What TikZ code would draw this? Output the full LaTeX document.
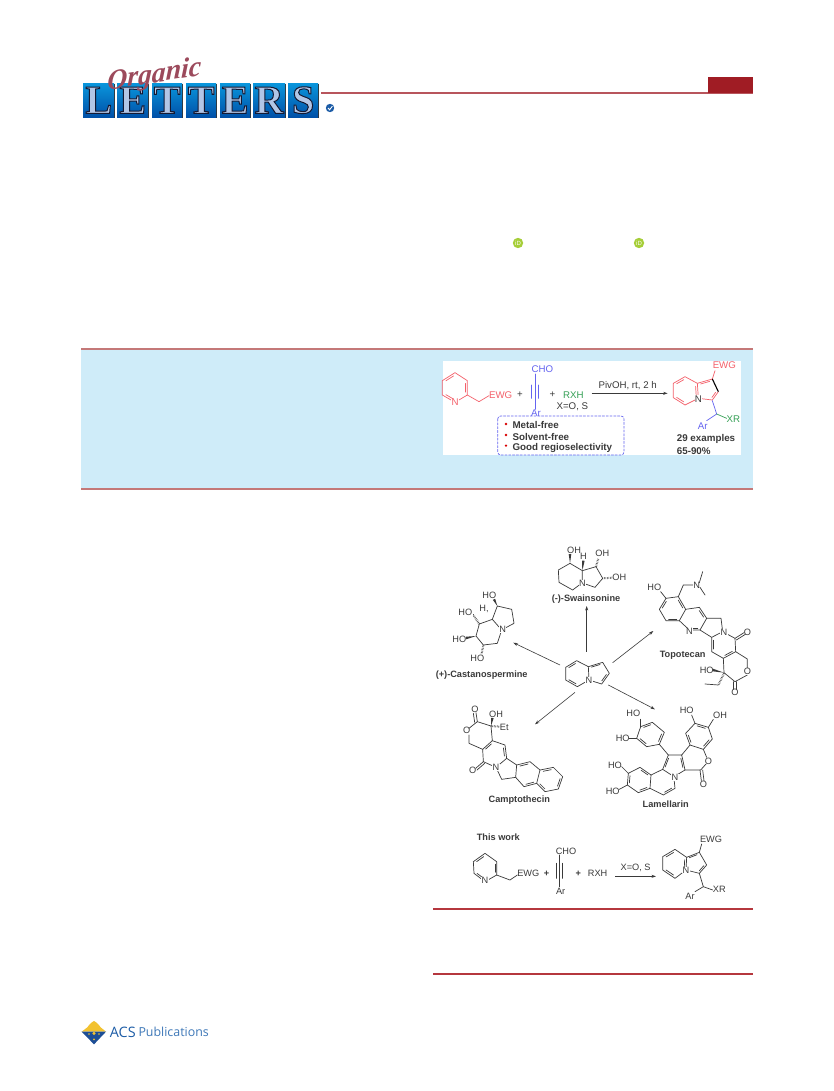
\documentclass[tikz,border=0pt]{standalone}
\usepackage{fontspec}
\setmainfont{Liberation Sans}
\newfontfamily\serifbold{Liberation Serif}
\newfontfamily\orgfont[FakeSlant=0.2]{Liberation Serif Bold Italic}
\newfontfamily\acsfont{Open Sans}
\usetikzlibrary{calc,arrows.meta}
\definecolor{hdrred}{HTML}{B8555C}
\definecolor{blockred}{HTML}{A01C24}
\definecolor{rulered}{HTML}{B5373E}
\definecolor{panel}{HTML}{CFECF9}
\definecolor{panelline}{HTML}{C47878}
\definecolor{tileTop}{HTML}{0A96DC}
\definecolor{tileBot}{HTML}{0050A8}
\definecolor{letterc}{HTML}{B2C6E6}
\definecolor{orgred}{HTML}{9C4A5C}
\definecolor{orcid}{HTML}{A6CE39}
\definecolor{chemred}{HTML}{F4606A}
\definecolor{chemblue}{HTML}{6464F0}
\definecolor{chemgreen}{HTML}{35A055}
\definecolor{chemink}{HTML}{3A3A3A}
\definecolor{acsblue}{HTML}{1C5CA6}
\definecolor{acspub}{HTML}{3E78B8}
\definecolor{acsgold}{HTML}{F2C230}
\definecolor{acsnavy}{HTML}{1D4E96}
\tikzset{
 bond/.style={line width=.7pt,line join=round,line cap=round},
 hashb/.style={line width=2pt,dash pattern=on .5pt off 1pt},
 lab/.style={font=\fontsize{9.2}{10}\selectfont,text=chemink,fill=white,inner sep=.2pt},
 nlab/.style={font=\fontsize{9.2}{10}\selectfont,text=chemink,inner sep=.2pt},
 name lab/.style={font=\fontsize{9.2}{10}\selectfont\bfseries,text=chemink,inner sep=0pt},
 toc/.style={font=\fontsize{9.7}{10}\selectfont,inner sep=0pt},
 tocb/.style={font=\fontsize{9.8}{10}\selectfont\bfseries,text=chemink,inner sep=0pt,anchor=west},
 arr/.style={line width=.6pt,draw=chemink,-{Stealth[length=4.5pt,width=3pt]}},
 tile/.style={minimum height=34pt,inner sep=0pt,top color=tileTop,bottom color=tileBot,draw=none},
 zoomed/.style={x=.33333pt,y=-.33333pt},
}
\def\ib(#1)(#2)(#3){\draw[bond] ($($(#1)!.14!(#2)$)!.16!(#3)$) -- ($($(#2)!.14!(#1)$)!.16!(#3)$);}
\def\wdg(#1)(#2){\fill ($(#1)$) -- ($(#2)!1.3pt!90:(#1)$) -- ($(#2)!1.3pt!-90:(#1)$) -- cycle;}
\newcommand{\logotile}[4]{%
 \fill[black!80] (#1+1.4,84.4) rectangle ++(#3,34);
 \node[tile,minimum width=#3 pt,anchor=north west] (#4) at (#1,83) {};
 \node[font=\serifbold\bfseries\fontsize{40}{40}\selectfont,text=letterc,inner sep=0pt] (#4txt) at (#4.center) {\special{pdf:code 2 Tr 1 w 0.08 0.1 0.2 RG}#2\special{pdf:code 0 Tr 0 0 0 RG}};
}
\begin{document}
\begin{tikzpicture}[x=1pt,y=-1pt]
\useasboundingbox (0,0) rectangle (833,1091);
\fill[white] (0,0) rectangle (833,1091);

% ---------- header ----------
\coordinate (hdrL) at (321,93);
\coordinate (hdrR) at (753,93);
\draw[hdrred,line width=1.2pt] (hdrL) -- (hdrR);
\fill[blockred] (708,77) rectangle (753,93);
\logotile{83}{L}{31}{tL}
\logotile{117}{E}{31}{tE}
\logotile{152}{T}{30}{tT}
\logotile{186}{T}{30}{tTT}
\logotile{220}{E}{30}{tEE}
\logotile{253}{R}{32}{tR}
\logotile{288}{S}{30}{tS}
\node[font=\orgfont\fontsize{28}{28}\selectfont,text=orgred,rotate=9,inner sep=0pt] (organic) at (153,76) {Organic};
\fill[acsblue] (330,108) circle (4.2);
\draw[white,line width=.9pt] (328,108) -- (329.6,109.8) -- (332.4,106.2);

% ---------- ORCID ----------
\fill[orcid] (518,243) circle (5.2);
\fill[orcid] (639,243) circle (5.2);
\node[font=\fontsize{6}{6}\selectfont,text=white,inner sep=0pt] (orc1) at (518,243) {iD};
\node[font=\fontsize{6}{6}\selectfont,text=white,inner sep=0pt] (orc2) at (639,243) {iD};

% ---------- abstract panel ----------
\fill[panel] (81,349) rectangle (753,489);
\draw[panelline,line width=1.2pt] (81,349) -- (753,349);
\draw[panelline,line width=1.2pt] (81,489) -- (753,489);
\fill[white] (443,361) rectangle (741,455);

\begin{scope}[shift={(435,350)},zoomed]
 \begin{scope}[color=chemred]
  \draw[bond] (60,68) -- (97,92) -- (97,135) -- (60,157) -- (22,135) -- (22,92) -- cycle;
  \ib(60,68)(22,92)(60,112) \ib(97,92)(97,135)(60,112) \ib(60,157)(22,135)(60,112)
  \draw[bond] (97,135) -- (132,155) -- (162,137);
  \draw[bond] (715,100) -- (750,80) -- (787,100) -- (790,145) -- (750,165) -- (715,143) -- cycle;
  \ib(715,100)(750,80)(752,122) \ib(787,100)(790,145)(752,122) \ib(750,165)(715,143)(752,122)
  \draw[bond] (787,100) -- (832,87);
  \ib(787,100)(832,87)(815,122)
  \draw[bond] (832,87) -- (840,62);
  \draw[bond] (850,125) -- (832,150) -- (790,145);
  \ib(850,125)(832,150)(812,120)
 \end{scope}
 \draw[black,line width=1.1pt] (832,87) -- (850,125);
 \begin{scope}[color=chemblue]
  \draw[bond] (300,72) -- (300,178);
  \draw[bond] (290,105) -- (290,145);
  \draw[bond] (310,105) -- (310,145);
  \draw[bond] (832,152) -- (845,192) -- (815,212);
  \draw[bond,chemgreen] (845,192) -- (875,205);
  \draw[bond,dash pattern=on 2.2pt off 1.6pt,line width=.7pt,rounded corners=3pt] (188,198) rectangle (567,315);
 \end{scope}
 \node[toc,text=chemred,inner sep=.2pt,fill=white] (nP) at (60,157) {N};
 \node[toc,text=chemred] (ewg1) at (197,134) {EWG};
 \node[toc,text=chemink] (p1) at (255,134) {+};
 \node[toc,text=chemblue] (cho1) at (322,58) {CHO};
 \node[toc,text=chemblue] (ar1) at (303,188) {Ar};
 \node[toc,text=chemink] (p2) at (352,134) {+};
 \node[toc,text=chemgreen] (rxh1) at (415,134) {RXH};
 \node[toc,text=chemink] (xo1) at (412,171) {X=O, S};
 \node[toc,text=chemink] (piv) at (578,108) {PivOH, rt, 2 h};
 \coordinate (tocA) at (470,130);
 \coordinate (tocB) at (698,130);
 \draw[arr] (tocA) -- (tocB);
 \node[toc,text=chemred] (ewg2) at (868,45) {EWG};
 \node[toc,text=chemink,inner sep=.2pt,fill=white] (n2) at (790,147) {N};
 \node[toc,text=chemblue] (ar2) at (803,228) {Ar};
 \node[toc,text=chemgreen] (xr2) at (895,208) {XR};
 \fill[red!85!black] (213,222) circle (1.3pt);
 \fill[red!85!black] (213,255) circle (1.3pt);
 \fill[red!85!black] (213,287) circle (1.3pt);
 \node[tocb] (b1) at (232,224) {Metal-free};
 \node[tocb] (b2) at (232,260) {Solvent-free};
 \node[tocb] (b3) at (232,295) {Good regioselectivity};
 \node[tocb] (ex1) at (725,267) {29 examples};
 \node[tocb] (ex2) at (725,303) {65-90\%};
\end{scope}

% ---------- upper molecules ----------
\begin{scope}[shift={(420,530)},zoomed,color=chemink]
 % Swainsonine
 \draw[bond] (450,100) -- (487,122) -- (487,158) -- (458,180) -- (417,157) -- (415,120) -- cycle;
 \draw[bond] (487,122) -- (528,110) -- (548,145) -- (525,172) -- (490,160);
 \wdg(450,100)(450,72)
 \wdg(487,122)(490,92)
 \draw[hashb] (528,110) -- (535,85);
 \draw[hashb] (548,145) -- (578,143);
 \node[lab] (sN) at (487,160) {N};
 \node[nlab] (sOH1) at (462,60) {OH};
 \node[nlab] (sH) at (490,80) {H};
 \node[nlab] (sOH2) at (547,70) {OH};
 \node[nlab] (sOH3) at (598,142) {OH};
 \node[name lab] (swain) at (498,206) {(-)-Swainsonine};
 % Castanospermine
 \draw[bond] (217,268) -- (178,282) -- (168,318) -- (190,345) -- (232,340) -- (245,300) -- cycle;
 \draw[bond] (217,268) -- (232,228) -- (275,238) -- (282,280) -- (250,297);
 \wdg(232,228)(222,208)
 \draw[hashb] (178,282) -- (162,258);
 \wdg(168,318)(138,324)
 \draw[hashb] (190,345) -- (185,372);
 \node[lab] (cN) at (248,298) {N};
 \node[nlab] (cHO1) at (208,197) {HO};
 \node[nlab] (cH) at (192,236) {H,};
 \node[nlab] (cHO2) at (140,250) {HO,};
 \node[nlab] (cHO3) at (118,328) {HO};
 \node[nlab] (cHO4) at (172,385) {HO};
 \node[name lab] (casta) at (185,434) {(+)-Castanospermine};
 % central indolizine
 \draw[bond] (437,412) -- (470,392) -- (505,410) -- (507,450) -- (472,470) -- (437,450) -- cycle;
 \draw[bond] (505,410) -- (548,397) -- (568,430) -- (545,462) -- (507,450);
 \ib(437,412)(470,392)(472,431) \ib(472,470)(437,450)(472,431) \ib(505,410)(548,397)(530,428) \ib(568,430)(545,462)(530,428)
 \node[lab] (centreN) at (507,452) {N};
 % Topotecan
 \draw[bond] (738,205) -- (775,200) -- (797,238) -- (778,272) -- (738,272) -- (718,238) -- cycle;
 \ib(738,205)(718,238)(758,238) \ib(775,200)(797,238)(758,238) \ib(778,272)(738,272)(758,238)
 \draw[bond] (797,238) -- (838,232) -- (860,265) -- (840,300) -- (808,300) -- (778,272);
 \ib(838,232)(860,265)(820,268) \ib(840,300)(808,300)(820,268)
 \draw[bond] (860,265) -- (903,265) -- (908,305) -- (875,322) -- (840,300);
 \draw[bond] (908,305) -- (945,325) -- (947,365) -- (910,385) -- (875,365) -- (875,322);
 \ib(875,322)(875,365)(910,345) \ib(947,365)(910,385)(910,345)
 \draw[bond] (945,325) -- (972,308);
 \draw[bond] (949,330) -- (976,313);
 \draw[bond] (947,365) -- (982,387) -- (982,415);
 \draw[bond] (982,435) -- (945,455) -- (912,428) -- (910,385);
 \draw[bond] (941,455) -- (941,478);
 \draw[bond] (949,455) -- (949,478);
 \wdg(912,428)(878,420)
 \draw[hashb] (912,430) -- (895,465);
 \draw[bond] (895,465) -- (855,462);
 \draw[bond] (738,205) -- (722,185);
 \draw[bond] (775,200) -- (790,165) -- (818,165);
 \draw[bond] (838,158) -- (848,125);
 \draw[bond] (840,172) -- (855,195);
 \node[lab] (tN1) at (808,303) {N};
 \node[lab] (tN2) at (912,307) {N};
 \node[nlab] (tO1) at (982,307) {O};
 \node[lab] (tO2) at (982,425) {O};
 \node[nlab] (tO3) at (945,487) {O};
 \node[nlab] (tHO1) at (703,172) {HO};
 \node[nlab] (tN3) at (830,165) {N};
 \node[nlab] (tHO2) at (860,420) {HO};
 \node[name lab] (topo) at (788,375) {Topotecan};
 % arrows
 \coordinate (a0) at (500,365); \coordinate (a1) at (500,228);
 \coordinate (b0) at (420,405); \coordinate (b1) at (280,338);
 \coordinate (c0) at (578,398); \coordinate (c1) at (700,303);
 \coordinate (d0) at (565,465); \coordinate (d1) at (705,538);
 \coordinate (e0) at (465,487); \coordinate (e1) at (345,583);
 \draw[arr] (a0) -- (a1);
 \draw[arr] (b0) -- (b1);
 \draw[arr] (c0) -- (c1);
 \draw[arr] (d0) -- (d1);
 \draw[arr] (e0) -- (e1);
\end{scope}

% ---------- lower molecules ----------
\begin{scope}[shift={(420,690)},zoomed,color=chemink]
 % Camptothecin
 \draw[bond] (213,108) -- (172,95) -- (147,115);
 \draw[bond] (147,135) -- (147,160) -- (188,178) -- (217,152) -- (213,108);
 \draw[bond] (172,95) -- (168,68);
 \draw[bond] (164,97) -- (160,70);
 \wdg(213,108)(217,84)
 \draw[hashb] (213,108) -- (240,110);
 \draw[bond] (217,152) -- (255,165) -- (260,205) -- (228,232) -- (190,215) -- (188,178);
 \ib(217,152)(188,178)(222,192) \ib(255,165)(260,205)(222,192)
 \draw[bond] (190,215) -- (167,235);
 \draw[bond] (194,220) -- (171,240);
 \draw[bond] (228,232) -- (245,268) -- (287,262) -- (290,225) -- (260,205);
 \draw[bond] (290,225) -- (330,215) -- (360,240) -- (350,280) -- (312,290) -- (287,262);
 \ib(290,225)(330,215)(322,252) \ib(350,280)(312,290)(322,252)
 \draw[bond] (360,240) -- (400,232) -- (428,260) -- (415,297) -- (375,305) -- (350,280);
 \ib(360,240)(400,232)(390,270) \ib(428,260)(415,297)(390,270) \ib(375,305)(350,280)(390,270)
 \node[lab] (cpN) at (228,232) {N};
 \node[nlab] (cpO1) at (165,57) {O};
 \node[nlab] (cpO2) at (140,122) {O};
 \node[nlab] (cpO3) at (158,241) {O};
 \node[nlab] (cpOH) at (228,72) {OH};
 \node[nlab] (cpEt) at (253,112) {Et};
 \node[name lab] (campto) at (298,330) {Camptothecin};
 % Lamellarin
 \draw[bond] (662,110) -- (697,97) -- (733,127) -- (718,163) -- (680,170) -- (650,145) -- cycle;
 \ib(662,110)(697,97)(692,133) \ib(733,127)(718,163)(692,133) \ib(680,170)(650,145)(692,133)
 \draw[bond] (662,88) -- (662,110);
 \draw[bond] (628,145) -- (650,145);
 \draw[bond] (718,163) -- (745,195);
 \draw[bond] (745,195) -- (785,195) -- (795,240) -- (762,260) -- (728,238) -- cycle;
 \ib(745,195)(728,238)(762,225) \ib(785,195)(795,240)(762,225)
 \draw[bond] (728,238) -- (693,255) -- (690,295) -- (730,315) -- (765,295) -- (762,265);
 \ib(730,315)(765,295)(728,278)
 \draw[bond] (693,255) -- (660,232) -- (625,250) -- (622,285) -- (655,308) -- (690,295);
 \ib(693,255)(660,232)(658,270) \ib(625,250)(622,285)(658,270) \ib(655,308)(690,295)(658,270)
 \draw[bond] (605,230) -- (625,250);
 \draw[bond] (598,298) -- (622,285);
 \draw[bond] (785,195) -- (810,165);
 \draw[bond] (810,165) -- (797,130) -- (825,100) -- (865,112) -- (877,147) -- (850,178) -- cycle;
 \ib(810,165)(797,130)(837,139) \ib(825,100)(865,112)(837,139) \ib(877,147)(850,178)(837,139)
 \draw[bond] (850,178) -- (860,202);
 \draw[bond] (858,222) -- (842,240) -- (795,240);
 \draw[bond] (840,240) -- (844,272);
 \draw[bond] (848,240) -- (852,272);
 \draw[bond] (825,100) -- (815,75);
 \draw[bond] (865,112) -- (880,88);
 \node[lab] (lN) at (765,262) {N};
 \node[nlab] (lO1) at (865,213) {O};
 \node[nlab] (lO2) at (850,283) {O};
 \node[nlab] (lHO1) at (640,70) {HO};
 \node[nlab] (lHO2) at (608,145) {HO};
 \node[nlab] (lHO3) at (585,225) {HO};
 \node[nlab] (lHO4) at (578,305) {HO};
 \node[nlab] (lHO5) at (800,62) {HO};
 \node[nlab] (lOH) at (900,77) {OH};
 \node[name lab] (lamel) at (737,343) {Lamellarin};
\end{scope}

% ---------- this work ----------
\begin{scope}[shift={(430,820)},zoomed,color=chemink]
 \draw[bond] (130,125) -- (165,100) -- (200,125) -- (200,165) -- (165,185) -- (132,160) -- cycle;
 \ib(130,125)(165,100)(166,143) \ib(200,125)(200,165)(166,143) \ib(165,185)(132,160)(166,143)
 \draw[bond] (200,165) -- (240,180) -- (262,165);
 \draw[bond] (388,105) -- (388,200);
 \draw[bond] (380,130) -- (380,175);
 \draw[bond] (396,130) -- (396,175);
 \draw[bond] (698,110) -- (735,88) -- (770,112) -- (768,150) -- (735,175) -- (698,150) -- cycle;
 \ib(698,110)(735,88)(734,131) \ib(770,112)(768,150)(734,131) \ib(735,175)(698,150)(734,131)
 \draw[bond] (770,112) -- (808,97) -- (830,135) -- (808,160) -- (768,150);
 \ib(830,135)(808,160)(792,130) \ib(770,112)(808,97)(792,130)
 \draw[bond] (808,97) -- (815,72);
 \draw[bond] (808,160) -- (820,200) -- (795,215);
 \draw[bond] (820,200) -- (848,210);
 \node[lab] (wN1) at (165,182) {N};
 \node[lab] (wN2) at (768,150) {N};
 \node[name lab] (work) at (205,52) {This work};
 \node[nlab] (wEWG1) at (295,160) {EWG};
 \node[nlab,font=\fontsize{9.2}{10}\selectfont\bfseries] (wp1) at (350,160) {+};
 \node[nlab] (wCHO) at (408,93) {CHO};
 \node[nlab] (wAr1) at (392,213) {Ar};
 \node[nlab,font=\fontsize{9.2}{10}\selectfont\bfseries] (wp2) at (445,160) {+};
 \node[nlab] (wRXH) at (503,160) {RXH};
 \node[nlab] (wX) at (617,143) {X=O, S};
 \node[nlab] (wEWG2) at (843,57) {EWG};
 \node[nlab] (wAr2) at (780,228) {Ar};
 \node[nlab] (wXR) at (868,208) {XR};
 \coordinate (wa) at (556,169);
 \coordinate (wb) at (678,169);
 \draw[arr] (wa) -- (wb);
\end{scope}

% ---------- rules ----------
\coordinate (r1a) at (433,909); \coordinate (r1b) at (753,909);
\coordinate (r2a) at (433,974); \coordinate (r2b) at (753,974);
\draw[rulered,line width=1.3pt] (r1a) -- (r1b);
\draw[rulered,line width=1.1pt] (r2a) -- (r2b);

% ---------- ACS logo ----------
\begin{scope}[shift={(70,1010)},zoomed]
 \fill[acsgold] (35,65) -- (52,52) -- (58,44) -- (64,38) -- (72,33) -- (80,38) -- (86,44) -- (92,52) -- (108,65) -- cycle;
 \fill[acsnavy] (35,65) -- (108,65) -- (72,103) -- cycle;
 \fill[acsgold] (72,70) circle (1.7pt);
 \fill[acsgold] (57,72) circle (.9pt);
 \fill[acsgold] (87,72) circle (.9pt);
 \fill[acsgold] (72,88) circle (1pt);
 \node[font=\acsfont\fontsize{14.4}{15}\selectfont,text=acsblue,inner sep=0pt,anchor=west] (acs) at (119,67) {ACS};
 \node[font=\acsfont\fontsize{12.4}{14}\selectfont,text=acspub,inner sep=0pt,anchor=west] (pubs) at (205,67) {Publications};
\end{scope}
\end{tikzpicture}
\end{document}
